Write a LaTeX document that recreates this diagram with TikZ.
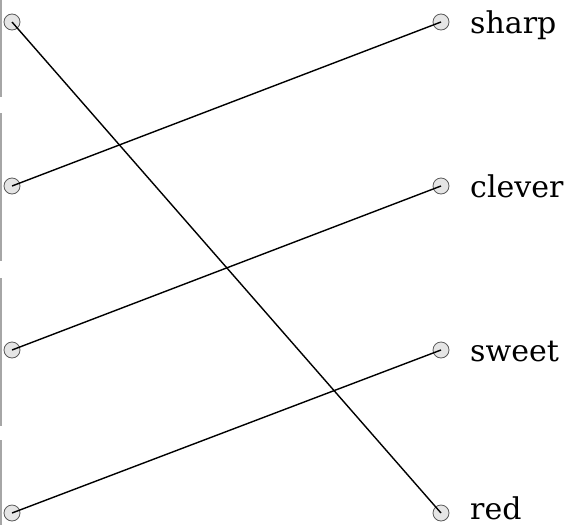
\documentclass[tikz,border=0pt]{standalone}
\usepackage{fontspec}
\setmainfont{DejaVu Serif}
\begin{document}
\begin{tikzpicture}[x=1pt,y=-1pt,
  dot/.style={circle,draw=black!65,fill=black!10,line width=0.8pt,minimum size=16pt,inner sep=0pt},
  wire/.style={line width=1.4pt,black},
  edge/.style={line width=1.6pt,black!35},
  lbl/.style={anchor=base west,inner sep=0pt,font=\fontsize{30}{30}\selectfont,text=black}]
\useasboundingbox (0,0) rectangle (578,525);
\draw[edge] (1,0) -- (1,97);
\draw[edge] (1,113) -- (1,261);
\draw[edge] (1,278) -- (1,426);
\draw[edge] (1,440) -- (1,525);
\foreach \i/\y in {1/22,2/186,3/350,4/513}{
  \node[dot] (L\i) at (12,\y) {};
  \node[dot] (R\i) at (441,\y) {};
}
\draw[wire] (L1.center) -- (R4.center);
\draw[wire] (L2.center) -- (R1.center);
\draw[wire] (L3.center) -- (R2.center);
\draw[wire] (L4.center) -- (R3.center);
\node[lbl] (t1) at (470,33) {sharp};
\node[lbl] (t2) at (470,197) {clever};
\node[lbl] (t3) at (470,361) {sweet};
\node[lbl] (t4) at (470,519) {red};
\end{tikzpicture}
\end{document}
